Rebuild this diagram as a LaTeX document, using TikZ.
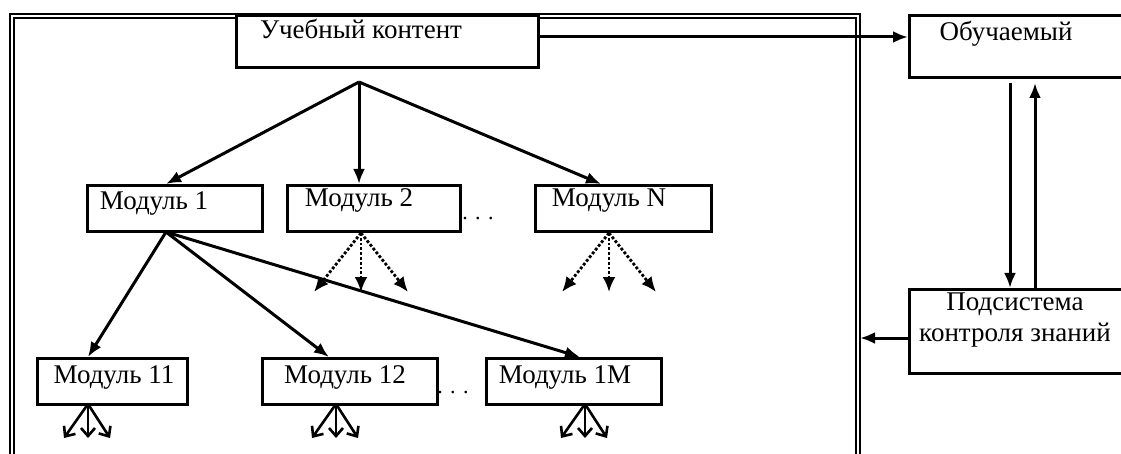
\documentclass[tikz,border=0pt]{standalone}
\usepackage{fontspec}
\setmainfont{Liberation Serif}
\usetikzlibrary{arrows.meta}
\begin{document}
\begin{tikzpicture}[x=1pt,y=-1pt,
  box/.style={draw, line width=3pt, fill=white, inner sep=0pt, anchor=north west},
  lbl/.style={font=\fontsize{27}{31}\selectfont, inner sep=0pt, align=center},
  dotlbl/.style={font=\fontsize{22}{24}\selectfont, inner sep=0pt, anchor=base},
  arr/.style={line width=3pt, -{Latex[length=15pt,width=12pt]}},
  dotarr/.style={line width=2.8pt, dotted, -{Latex[length=15pt,width=13pt]}},
  fan/.style={line width=2.6pt, -{Straight Barb[length=8pt,width=14pt]}},
  outerframe/.style={double, double distance=2pt, line width=1.8pt}]
\useasboundingbox (0,0) rectangle (1121,454);
\clip (0,0) rectangle (1121,454);
\fill[white] (0,0) rectangle (1121,454);

% outer frame around the content structure
\draw[outerframe] (12,16) rectangle (858,490);

% boxes
\node[box, minimum width=302pt, minimum height=52pt] (cont) at (235,14) {};
\node[box, minimum width=230pt, minimum height=62pt] (learn) at (908,14) {};
\node[box, minimum width=230pt, minimum height=84pt] (ctrl) at (908,288) {};
\node[box, minimum width=175pt, minimum height=46pt] (m1) at (86,184) {};
\node[box, minimum width=173pt, minimum height=46pt] (m2) at (286,184) {};
\node[box, minimum width=176pt, minimum height=46pt] (mn) at (534,184) {};
\node[box, minimum width=150pt, minimum height=46pt] (m11) at (36,357) {};
\node[box, minimum width=175pt, minimum height=46pt] (m12) at (261,357) {};
\node[box, minimum width=175pt, minimum height=46pt] (m1m) at (485,357) {};

% labels
\node[lbl] (tcont) at (361,29) {Учебный контент};
\node[lbl] (tlearn) at (1006,34) {Обучаемый};
\node[lbl] (tctrl) at (1015,320) {Подсистема\\контроля знаний};
\node[lbl] (tm1) at (154,204) {Модуль 1};
\node[lbl] (tm2) at (359,200) {Модуль 2};
\node[lbl] (tmn) at (609,201) {Модуль N};
\node[lbl] (tm11) at (114,377) {Модуль 11};
\node[lbl] (tm12) at (345,377) {Модуль 12};
\node[lbl] (tm1m) at (565,377) {Модуль 1M};
\node[dotlbl] (dots1) at (478,220) {. . .};
\node[dotlbl] (dots2) at (453,393) {. . .};

% content -> learner
\coordinate (contout) at (537,37);
\coordinate (learnin) at (908,37);
\draw[arr] (contout) -- (learnin);

% learner <-> knowledge control
\coordinate (dnA) at (1010,83);
\coordinate (dnB) at (1010,288);
\coordinate (upA) at (1035,288);
\coordinate (upB) at (1035,83);
\draw[arr] (dnA) -- (dnB);
\draw[arr] (upA) -- (upB);

% knowledge control -> content frame
\coordinate (ctrlout) at (908,338);
\coordinate (framein) at (860,338);
\draw[arr] (ctrlout) -- (framein);

% content -> first-level modules
\coordinate (br) at (359,82);
\coordinate (m1in) at (166,184);
\coordinate (m2in) at (359,184);
\coordinate (mnin) at (601,184);
\draw[arr] (br) -- (m1in);
\draw[arr] (br) -- (m2in);
\draw[arr] (br) -- (mnin);

% module 1 -> second-level modules
\coordinate (m1out) at (166,232);
\coordinate (m11in) at (88,357);
\coordinate (m12in) at (329,357);
\coordinate (m1min) at (580,357);
\draw[arr] (m1out) -- (m11in);
\draw[arr] (m1out) -- (m12in);
\draw[arr] (m1out) -- (m1min);

% dotted fans
\foreach \nm/\cx in {m2/361, mn/609}{
  \coordinate (\nm o) at (\cx,233);
  \foreach \dx in {-47,0,47}
    \draw[dotarr] (\nm o) -- ++(\dx,59);
}

% small fans below the second-level modules
\foreach \nm/\cx in {m11/88, m12/336, m1m/585}{
  \coordinate (\nm o) at (\cx,404);
  \foreach \dx in {-24,0,22}
    \draw[fan] (\nm o) -- ++(\dx,34);
}
\end{tikzpicture}
\end{document}
